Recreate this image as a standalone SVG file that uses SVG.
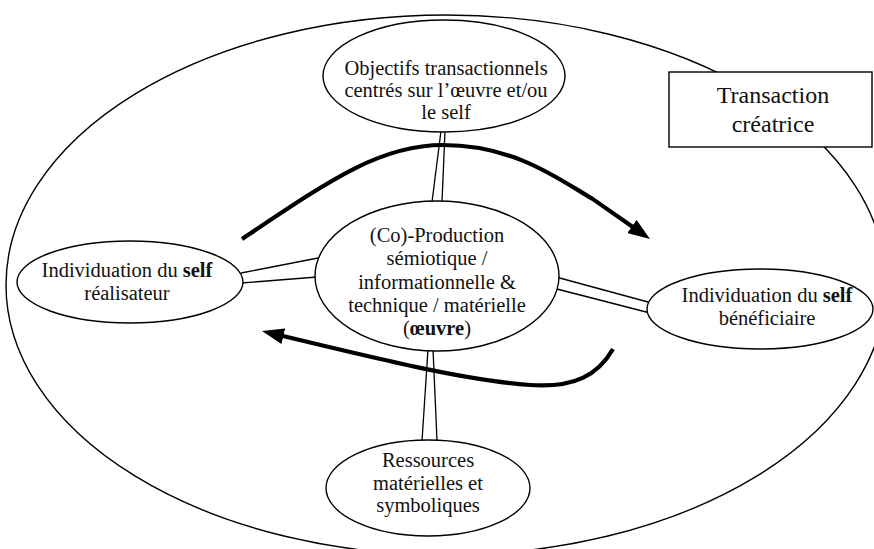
<svg xmlns="http://www.w3.org/2000/svg" width="874" height="549" viewBox="0 0 874 549">
<style>
  .shape { fill: #ffffff; stroke: #000000; stroke-width: 1.4; }
  .frame { fill: none; stroke: #000000; stroke-width: 1.4; }
  .link line { stroke: #000000; stroke-width: 1.3; }
  .flow { fill: none; stroke: #000000; stroke-width: 4.2; }
  text { font-family: "Liberation Serif", "Times New Roman", serif; font-size: 20.5px; fill: #111111; text-anchor: middle; }
  .big { font-size: 24px; }
  .b { font-weight: bold; }
</style>
<defs>
  <marker id="head" viewBox="0 0 22 16" refX="12" refY="8" markerWidth="22" markerHeight="16" markerUnits="userSpaceOnUse" orient="auto">
    <path d="M0,0 L22,8 L0,16 z" fill="#000000"/>
  </marker>
</defs>
<rect width="874" height="549" fill="#ffffff"/>

<g id="transaction-frame">
  <ellipse class="frame" cx="446" cy="285" rx="440" ry="270"/>
</g>

<g id="connectors">
  <g class="link" id="link-top">
    <line x1="441" y1="131" x2="432" y2="202"/>
    <line x1="445" y1="131" x2="442" y2="202"/>
  </g>
  <g class="link" id="link-left">
    <line x1="241" y1="273" x2="318" y2="258"/>
    <line x1="241" y1="283" x2="317" y2="277"/>
  </g>
  <g class="link" id="link-right">
    <line x1="556" y1="277" x2="648" y2="302"/>
    <line x1="553" y1="288" x2="650" y2="313"/>
  </g>
  <g class="link" id="link-bottom">
    <line x1="428" y1="349" x2="422" y2="441"/>
    <line x1="433" y1="349" x2="437" y2="441"/>
  </g>
</g>

<g id="node-objectifs">
  <ellipse class="shape" cx="444" cy="76" rx="121" ry="56"/>
  <text x="446" y="75">Objectifs transactionnels</text>
  <text x="446" y="97">centrés sur l’œuvre et/ou</text>
  <text x="446" y="119">le self</text>
</g>

<g id="node-production">
  <ellipse class="shape" cx="437" cy="276" rx="122" ry="75"/>
  <text x="437" y="242">(Co)-Production</text>
  <text x="437" y="265">sémiotique /</text>
  <text x="437" y="289">informationnelle &amp;</text>
  <text x="437" y="312">technique / matérielle</text>
  <text x="437" y="335">(<tspan class="b">œuvre</tspan>)</text>
</g>

<g id="node-realisateur">
  <ellipse class="shape" cx="130" cy="282" rx="113" ry="41"/>
  <text x="127" y="277">Individuation du <tspan class="b">self</tspan></text>
  <text x="127" y="300">réalisateur</text>
</g>

<g id="node-beneficiaire">
  <ellipse class="shape" cx="760" cy="309" rx="113" ry="40"/>
  <text x="767" y="302">Individuation du <tspan class="b">self</tspan></text>
  <text x="767" y="325">bénéficiaire</text>
</g>

<g id="node-ressources">
  <ellipse class="shape" cx="428" cy="488" rx="102" ry="48"/>
  <text x="428" y="467">Ressources</text>
  <text x="428" y="490">matérielles et</text>
  <text x="428" y="512">symboliques</text>
</g>

<g id="node-transaction">
  <rect class="shape" x="669" y="72" width="203" height="75"/>
  <text class="big" x="773" y="103">Transaction</text>
  <text class="big" x="773" y="132">créatrice</text>
</g>

<g id="flows">
  <path class="flow" d="M242,239 C330,180 380,145 443,145 C515,145 560,180 592.6,198.9 L641.8,233.3" marker-end="url(#head)"/>
  <path class="flow" d="M613,349 C598,375 575,388 530,385 C470,381 390,362 271.7,333.3" marker-end="url(#head)"/>
</g>
</svg>
